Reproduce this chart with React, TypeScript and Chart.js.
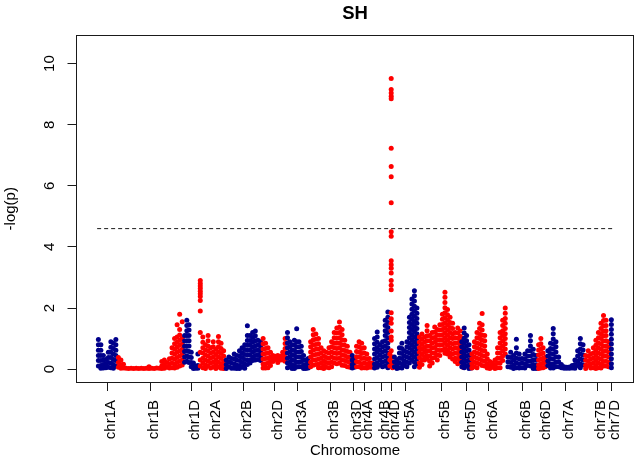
import React, { useEffect, useRef } from "react";
import { Chart, registerables } from "chart.js";

Chart.register(...registerables);

// ---- data ----------------------------------------------------------------
const chartTitle = "SH";
const yAxisTitle = "-log(p)";
const xAxisTitle = "Chromosome";
const threshold = 4.6;
const yTickValues = [0, 2, 4, 6, 8, 10];
const yLimits = [0, 10.5];

const chromosomes = [
  "chr1A", "chr1B", "chr1D", "chr2A", "chr2B", "chr2D", "chr3A", "chr3B", "chr3D",
  "chr4A", "chr4B", "chr4D", "chr5A", "chr5B", "chr5D", "chr6A", "chr6B", "chr6D",
  "chr7A", "chr7B", "chr7D",
];
// cumulative genome position (arbitrary units) of each chromosome block
const chrStart = [0, 20, 86.5, 102, 128, 165, 189.5, 212.5, 254.5, 258.5, 276.5, 292.5, 296.5, 321.5, 364, 374, 410, 441, 450, 488, 513.5];
const chrEnd = [20, 86.5, 102, 128, 165, 189.5, 212.5, 254.5, 258.5, 276.5, 292.5, 296.5, 321.5, 367.5, 376, 410, 441, 450, 488, 513.5, 516.5];

// -log(p) values, grouped by marker locus (left to right along each chromosome)
const chr1A = [[0.97, 0.8, 0.62, 0.45, 0.28, 0.1], [0.8, 0.62, 0.45, 0.28, 0.12, 0.03], [0.45, 0.3, 0.15, 0.04], [0.32, 0.18, 0.05], [0.55, 0.38, 0.22, 0.06], [0.9, 0.72, 0.55, 0.38, 0.2, 0.05], [0.85, 0.68, 0.5, 0.32, 0.15, 0.03], [0.97, 0.8, 0.62, 0.45, 0.28, 0.1]];
const chr1B = [[0.38, 0.22, 0.06], [0.3, 0.15, 0.03], [0.16, 0.04],
  [0.03], [0.02], [0.03], [0.02], [0.03], [0.02], [0.03], [0.02], [0.03], [0.08, 0.02], [0.03], [0.02], [0.04], [0.03],
  [0.25, 0.1, 0.02], [0.3, 0.15, 0.03], [0.22, 0.06], [0.34, 0.18, 0.04],
  [0.7, 0.53, 0.36, 0.2, 0.05], [1.0, 0.83, 0.66, 0.5, 0.33, 0.17, 0.04], [1.45, 1.05, 0.88, 0.72, 0.55, 0.38, 0.22, 0.06], [1.8, 1.3, 1.12, 0.95, 0.78, 0.6, 0.43, 0.26, 0.1], [1.55, 1.0, 0.82, 0.65, 0.48, 0.3, 0.14]];
const chr1D = [[1.1, 0.92, 0.75, 0.58, 0.4, 0.23], [1.6, 1.43, 1.26, 1.1, 0.93, 0.76, 0.6, 0.43, 0.26], [1.45, 1.28, 1.1, 0.93, 0.76, 0.58, 0.4, 0.22], [0.55, 0.38, 0.22, 0.08], [0.2, 0.08, 0.02], [0.1, 0.03], [0.5, 0.12, 0.03]];
const chr2A = [[2.9, 2.8, 2.72, 2.64, 2.55, 2.47, 2.38, 2.25, 1.9, 1.2, 0.55, 0.3, 0.1], [1.05, 0.88, 0.7, 0.53, 0.36, 0.2, 0.05], [0.8, 0.63, 0.46, 0.3, 0.14, 0.02], [1.1, 0.93, 0.76, 0.6, 0.43, 0.26, 0.1], [0.7, 0.53, 0.36, 0.2, 0.04], [0.9, 0.73, 0.56, 0.4, 0.23, 0.07], [0.65, 0.48, 0.31, 0.15, 0.02], [1.07, 0.9, 0.73, 0.56, 0.4, 0.23, 0.07], [0.85, 0.68, 0.51, 0.35, 0.18, 0.03], [0.6, 0.43, 0.27, 0.12, 0.02]];
const chr2B = [[0.3, 0.15, 0.02], [0.4, 0.24, 0.08], [0.35, 0.19, 0.03], [0.5, 0.34, 0.18, 0.03], [0.45, 0.29, 0.13, 0.02], [0.6, 0.44, 0.28, 0.12, 0.02], [0.7, 0.54, 0.38, 0.22, 0.06], [0.8, 0.64, 0.48, 0.32, 0.16, 0.03], [1.42, 1.1, 0.94, 0.78, 0.62, 0.46, 0.3, 0.15], [1.1, 0.94, 0.78, 0.62, 0.46, 0.3, 0.2], [1.2, 1.04, 0.88, 0.72, 0.56, 0.4, 0.28], [1.25, 1.09, 0.93, 0.77, 0.61, 0.45, 0.3], [0.95, 0.79, 0.63, 0.47, 0.32], [0.9, 0.74, 0.58, 0.42, 0.28]];
const chr2D = [[1.0, 0.83, 0.66, 0.5, 0.33, 0.17, 0.04], [0.85, 0.68, 0.51, 0.35, 0.18, 0.04], [0.7, 0.53, 0.36, 0.2, 0.05], [0.55, 0.4, 0.25, 0.12], [0.45, 0.35, 0.25], [0.42, 0.32], [0.45, 0.35, 0.22], [0.42, 0.3], [0.55, 0.42, 0.3], [1.0, 0.84, 0.68, 0.52, 0.38, 0.26]];
const chr3A = [[1.2, 1.03, 0.86, 0.7, 0.53, 0.36, 0.2, 0.05], [0.9, 0.73, 0.56, 0.4, 0.23, 0.08], [0.8, 0.63, 0.46, 0.3, 0.14, 0.02], [0.95, 0.78, 0.61, 0.45, 0.28, 0.12, 0.02], [1.32, 0.9, 0.73, 0.56, 0.4, 0.23, 0.07], [0.9, 0.73, 0.56, 0.4, 0.23, 0.08], [0.75, 0.58, 0.41, 0.25, 0.08], [0.45, 0.29, 0.13, 0.02], [0.3, 0.15, 0.02], [0.35, 0.19, 0.04]];
const chr3B = [[0.9, 0.73, 0.56, 0.4, 0.23, 0.08], [1.3, 1.13, 0.96, 0.8, 0.63, 0.46, 0.3, 0.13], [1.15, 0.98, 0.81, 0.65, 0.48, 0.31, 0.15], [1.0, 0.83, 0.66, 0.5, 0.33, 0.17, 0.05], [0.7, 0.53, 0.36, 0.2, 0.05], [0.6, 0.43, 0.27, 0.12, 0.02], [0.55, 0.38, 0.22, 0.06], [0.7, 0.53, 0.36, 0.2, 0.05], [0.9, 0.73, 0.56, 0.4, 0.23, 0.08], [1.2, 1.03, 0.86, 0.7, 0.53, 0.36, 0.2], [1.35, 1.18, 1.01, 0.85, 0.68, 0.51, 0.35, 0.18], [1.54, 1.37, 1.2, 1.03, 0.86, 0.7, 0.53, 0.36, 0.2], [1.3, 1.13, 0.96, 0.8, 0.63, 0.46, 0.3, 0.13], [0.95, 0.78, 0.61, 0.45, 0.28, 0.12], [0.75, 0.58, 0.41, 0.25, 0.08], [0.55, 0.38, 0.22, 0.06]];
const chr3D = [[0.45, 0.3, 0.15, 0.04], [0.35, 0.2, 0.06]];
const chr4A = [[0.75, 0.58, 0.41, 0.25, 0.08], [0.9, 0.73, 0.56, 0.4, 0.23, 0.08], [0.85, 0.68, 0.51, 0.35, 0.18, 0.04], [0.7, 0.53, 0.36, 0.2, 0.05], [0.5, 0.34, 0.18, 0.04], [0.35, 0.2, 0.06], [0.2, 0.06]];
const chr4B = [[1.0, 0.83, 0.66, 0.5, 0.33, 0.17, 0.04], [1.22, 1.05, 0.88, 0.71, 0.55, 0.38, 0.21, 0.06], [0.8, 0.63, 0.46, 0.3, 0.14], [0.9, 0.73, 0.56, 0.4, 0.23, 0.08], [1.6, 1.43, 1.26, 1.1, 0.93, 0.76, 0.6, 0.43, 0.26, 0.1], [1.87, 1.7, 1.53, 1.36, 1.2, 1.03, 0.86, 0.7, 0.53, 0.36, 0.2, 0.05]];
const chr4D = [[0.5, 0.3, 0.1], [9.51, 9.15, 9.04, 8.93, 8.85, 7.23, 6.63, 6.3, 5.45, 4.5, 4.35, 3.55, 3.42, 3.3, 3.15, 2.9, 2.75, 2.6, 1.85, 1.65, 1.5, 1.25, 1.05, 0.95, 0.6, 0.4, 0.25, 0.1], [0.4, 0.2, 0.05]];
const chr5A = [[0.4, 0.24, 0.08], [0.3, 0.15, 0.02], [0.7, 0.53, 0.36, 0.2, 0.05], [0.85, 0.68, 0.51, 0.35, 0.18, 0.04], [0.6, 0.43, 0.27, 0.12], [0.9, 0.73, 0.56, 0.4, 0.23, 0.08], [1.7, 1.53, 1.36, 1.2, 1.03, 0.86, 0.7, 0.53, 0.36, 0.2], [2.3, 2.13, 1.96, 1.8, 1.63, 1.46, 1.3, 1.13, 0.96, 0.8, 0.63, 0.46, 0.3], [2.57, 2.4, 2.23, 2.06, 1.9, 1.73, 1.56, 1.4, 1.23, 1.06, 0.9, 0.73, 0.56, 0.4, 0.23, 0.08], [2.0, 1.83, 1.66, 1.5, 1.33, 1.16, 1.0, 0.83, 0.66, 0.5, 0.33, 0.17]];
const chr5B = [[1.05, 0.88, 0.71, 0.55, 0.38, 0.21, 0.06], [1.15, 0.98, 0.81, 0.65, 0.48, 0.31, 0.15], [1.05, 0.88, 0.71, 0.55, 0.4, 0.3], [1.43, 1.26, 1.09, 0.93, 0.76, 0.6, 0.45, 0.35], [1.1, 0.93, 0.76, 0.6, 0.43, 0.26, 0.1], [1.2, 1.03, 0.86, 0.7, 0.53, 0.36, 0.2], [1.38, 1.21, 1.04, 0.88, 0.71, 0.54, 0.38], [1.3, 1.13, 0.96, 0.8, 0.63, 0.46, 0.3], [1.45, 1.28, 1.11, 0.95, 0.78, 0.61, 0.45], [1.8, 1.63, 1.46, 1.3, 1.13, 0.96, 0.8, 0.63], [2.52, 2.35, 2.18, 2.01, 1.85, 1.68, 1.51, 1.35, 1.18, 1.01, 0.85, 0.68, 0.52], [1.95, 1.78, 1.61, 1.45, 1.28, 1.11, 0.95, 0.78, 0.62, 0.5], [1.7, 1.53, 1.36, 1.2, 1.03, 0.86, 0.7, 0.53, 0.4], [1.5, 1.33, 1.16, 1.0, 0.83, 0.66, 0.5, 0.33], [1.2, 1.03, 0.86, 0.7, 0.53, 0.36, 0.25], [1.35, 1.18, 1.01, 0.85, 0.68, 0.51, 0.35, 0.18], [1.25, 1.08, 0.91, 0.75, 0.58, 0.41, 0.28], [1.0, 0.83, 0.66, 0.5, 0.33, 0.17, 0.06]];
const chr5D = [[0.9, 0.73, 0.56, 0.4, 0.23, 0.08], [1.35, 1.18, 1.01, 0.85, 0.68, 0.51, 0.35, 0.18, 0.05], [1.1, 0.93, 0.76, 0.6, 0.43, 0.26, 0.1], [0.8, 0.63, 0.46, 0.3, 0.14, 0.02], [0.5, 0.34, 0.18, 0.04]];
const chr6A = [[0.5, 0.34, 0.18, 0.04], [0.9, 0.73, 0.56, 0.4, 0.23, 0.08], [1.2, 1.03, 0.86, 0.7, 0.53, 0.36, 0.2, 0.05], [1.5, 1.33, 1.16, 1.0, 0.83, 0.66, 0.5, 0.33, 0.17], [1.82, 1.45, 1.28, 1.11, 0.95, 0.78, 0.61, 0.45, 0.28, 0.12], [1.1, 0.93, 0.76, 0.6, 0.43, 0.26, 0.1], [0.5, 0.34, 0.18, 0.04], [0.25, 0.1, 0.02], [0.2, 0.06], [0.3, 0.15, 0.02], [0.7, 0.53, 0.36, 0.2, 0.05], [1.2, 1.03, 0.86, 0.7, 0.53, 0.36, 0.2, 0.05], [1.6, 1.43, 1.26, 1.1, 0.93, 0.76, 0.6, 0.43, 0.28], [2.0, 1.83, 1.66, 1.5, 1.33, 1.16, 1.0, 0.83, 0.66, 0.5]];
const chr6B = [[0.4, 0.24, 0.08], [0.55, 0.38, 0.22, 0.06], [0.45, 0.29, 0.13, 0.02], [0.98, 0.7, 0.53, 0.36, 0.2, 0.05], [0.5, 0.34, 0.18, 0.04], [0.35, 0.2, 0.05], [0.5, 0.34, 0.18, 0.04], [0.6, 0.43, 0.27, 0.12], [1.1, 0.93, 0.76, 0.6, 0.43, 0.26, 0.1], [0.65, 0.48, 0.31, 0.15, 0.02], [0.45, 0.29, 0.13, 0.02]];
const chr6D = [[0.8, 0.63, 0.46, 0.3, 0.14, 0.02], [1.0, 0.83, 0.66, 0.5, 0.33, 0.17, 0.04], [0.7, 0.53, 0.36, 0.2, 0.05], [0.4, 0.24, 0.08]];
const chr7A = [[0.6, 0.43, 0.27, 0.12], [0.85, 0.68, 0.51, 0.35, 0.18, 0.04], [1.33, 1.16, 0.99, 0.82, 0.66, 0.5, 0.33, 0.17, 0.04], [0.9, 0.73, 0.56, 0.4, 0.23, 0.08], [0.4, 0.24, 0.08], [0.15, 0.05], [0.08, 0.03], [0.06, 0.03], [0.07, 0.03], [0.12, 0.04], [0.3, 0.15, 0.03], [0.6, 0.43, 0.27, 0.12], [1.0, 0.83, 0.66, 0.5, 0.33, 0.17, 0.05], [0.8, 0.63, 0.46, 0.3, 0.14]];
const chr7B = [[0.45, 0.29, 0.13, 0.02], [0.6, 0.43, 0.27, 0.12], [0.5, 0.34, 0.18, 0.04], [0.7, 0.53, 0.36, 0.2, 0.05], [0.95, 0.78, 0.61, 0.45, 0.28, 0.12, 0.02], [1.2, 1.03, 0.86, 0.7, 0.53, 0.36, 0.2, 0.05], [1.5, 1.33, 1.16, 1.0, 0.83, 0.66, 0.5, 0.33, 0.17, 0.04], [1.76, 1.59, 1.42, 1.25, 1.09, 0.92, 0.75, 0.58, 0.42, 0.25, 0.1], [1.6, 1.43, 1.26, 1.1, 0.93, 0.76, 0.6, 0.43, 0.26, 0.1], [0.9, 0.73, 0.56, 0.4, 0.23, 0.08]];
const chr7D = [[1.62, 1.46, 1.3, 1.14, 0.98, 0.82, 0.66, 0.5, 0.34, 0.18, 0.05]];

const chrValues = [chr1A, chr1B, chr1D, chr2A, chr2B, chr2D, chr3A, chr3B, chr3D, chr4A, chr4B, chr4D, chr5A, chr5B, chr5D, chr6A, chr6B, chr6D, chr7A, chr7B, chr7D];

// ---- styles ----------------------------------------------------------------
const BLUE = "#00008B";
const RED = "#FF0000";
const INK = "#1a1a1a";
const FONT = '"Liberation Sans", Arial, Helvetica, sans-serif';

export default function App() {
  const ref = useRef<HTMLCanvasElement>(null);

  useEffect(() => {
    document.body.style.margin = "0";
    const canvas = ref.current;
    if (!canvas) return;

    const dataMin = Math.min(...chrStart);
    const dataMax = Math.max(...chrEnd);
    const xPad = (dataMax - dataMin) * 0.04;
    const yPad = (yLimits[1] - yLimits[0]) * 0.04;
    const chrTicks = chromosomes.map((_, i) => (chrStart[i] + chrEnd[i]) / 2);

    const datasets: any[] = chromosomes.map((name, i) => {
      const cols = chrValues[i];
      const step = (chrEnd[i] - chrStart[i]) / cols.length;
      const data: { x: number; y: number }[] = [];
      cols.forEach((col, j) => {
        const x = chrStart[i] + (j + 0.5) * step;
        col.forEach((v) => data.push({ x, y: v }));
      });
      const color = i % 2 === 0 ? BLUE : RED;
      return {
        type: "scatter",
        label: name,
        data,
        backgroundColor: color,
        borderColor: color,
        borderWidth: 0,
        pointRadius: 2.5,
        pointHoverRadius: 2.5,
        order: 100 - i,
      };
    });
    datasets.push({
      type: "line",
      label: "threshold",
      data: [
        { x: dataMin, y: threshold },
        { x: dataMax, y: threshold },
      ],
      borderColor: INK,
      borderWidth: 1,
      borderDash: [4, 3],
      pointRadius: 0,
      fill: false,
      order: 0,
    });

    const decor = {
      id: "decor",
      afterDraw(chart: any) {
        const { ctx, chartArea: a, scales } = chart;
        const xs = scales.x;
        const ys = scales.y;
        ctx.save();
        ctx.strokeStyle = INK;
        ctx.lineWidth = 1;
        const L = Math.floor(a.left) + 0.5;
        const T = Math.floor(a.top) + 0.5;
        const R = Math.floor(a.right) + 0.5;
        const B = Math.floor(a.bottom) + 0.5;
        ctx.strokeRect(L, T, R - L, B - T);

        ctx.fillStyle = "#000";
        ctx.font = `bold 18.5px ${FONT}`;
        ctx.textAlign = "center";
        ctx.textBaseline = "alphabetic";
        ctx.fillText(chartTitle, (a.left + a.right) / 2, 18.5);

        ctx.font = `15px ${FONT}`;
        yTickValues.forEach((v) => {
          const py = ys.getPixelForValue(v);
          ctx.save();
          ctx.translate(54, py);
          ctx.rotate(-Math.PI / 2);
          ctx.textAlign = "center";
          ctx.fillText(String(v), 0, 0);
          ctx.restore();
        });

        ctx.save();
        ctx.translate(15, (a.top + a.bottom) / 2);
        ctx.rotate(-Math.PI / 2);
        ctx.textAlign = "center";
        ctx.fillText(yAxisTitle, 0, 0);
        ctx.restore();

        chromosomes.forEach((name, i) => {
          const px = xs.getPixelForValue(chrTicks[i]);
          ctx.save();
          ctx.translate(px + 8, 400);
          ctx.rotate(-Math.PI / 2);
          ctx.textAlign = "right";
          ctx.fillText(name, 0, 0);
          ctx.restore();
        });

        ctx.textAlign = "center";
        ctx.fillText(xAxisTitle, (a.left + a.right) / 2, 455);
        ctx.restore();
      },
    };

    const chart = new Chart(canvas, {
      type: "scatter",
      data: { datasets },
      options: {
        responsive: false,
        devicePixelRatio: 1,
        animation: false,
        events: [],
        layout: { padding: { top: 35.5, right: 4.5, left: 0, bottom: 0 } },
        plugins: {
          legend: { display: false },
          tooltip: { enabled: false },
          title: { display: false },
        },
        scales: {
          x: {
            type: "linear",
            min: dataMin - xPad,
            max: dataMax + xPad,
            afterBuildTicks: (s: any) => {
              s.ticks = chrTicks.map((v) => ({ value: v }));
            },
            afterFit: (s: any) => {
              s.height = 77;
            },
            ticks: { display: false },
            grid: {
              display: true,
              drawOnChartArea: false,
              drawTicks: true,
              tickLength: 9,
              color: INK,
              tickColor: INK,
              lineWidth: 1,
            },
            border: { display: false },
          },
          y: {
            type: "linear",
            min: yLimits[0] - yPad,
            max: yLimits[1] + yPad,
            afterBuildTicks: (s: any) => {
              s.ticks = yTickValues.map((v) => ({ value: v }));
            },
            afterFit: (s: any) => {
              s.width = 76.5;
            },
            ticks: { display: false },
            grid: {
              display: true,
              drawOnChartArea: false,
              drawTicks: true,
              tickLength: 9,
              color: INK,
              tickColor: INK,
              lineWidth: 1,
            },
            border: { display: false },
          },
        },
      },
      plugins: [decor],
    } as any);

    return () => chart.destroy();
  }, []);

  return (
    <div style={{ width: 638, height: 459 }}>
      <canvas ref={ref} width={638} height={459} style={{ display: "block" }} />
    </div>
  );
}
